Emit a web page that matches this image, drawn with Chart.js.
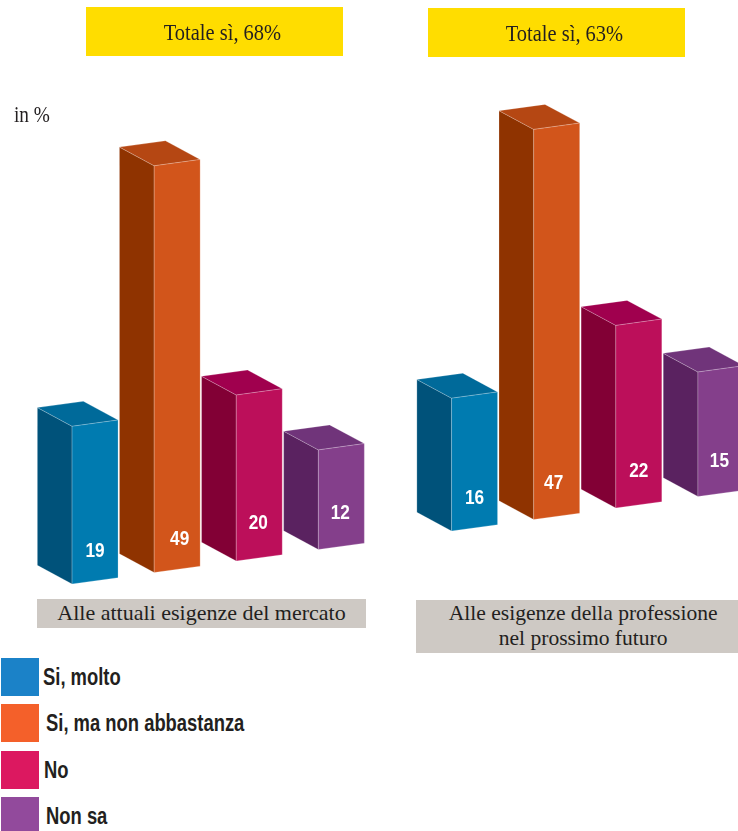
<!DOCTYPE html>
<html lang="it">
<head>
  <meta charset="UTF-8" />
  <title>Totale sì</title>
  <script src="https://cdn.jsdelivr.net/npm/chart.js"></script>
  <style>
    html, body { margin: 0; padding: 0; background: #fff; }
    #page { position: relative; width: 738px; height: 831px; overflow: hidden; }
    canvas { position: absolute; top: 0; }
    .serif { position: absolute; font-family: 'Liberation Serif', serif; color: #231f20; text-align: center; white-space: nowrap; }
    .total { background: #ffdd00; height: 49px; line-height: 51px; width: 257px; }
    .total span { display: inline-block; font-size: 23px; transform: translateX(7.5px) scaleX(0.89); }
    .sub { background: #cec9c4; font-size: 22px; line-height: 25px; }
    .sub span { display: inline-block; transform: translateX(6px) scaleX(0.98); }
    .swatch { position: absolute; left: 1px; width: 38px; }
    .lab { position: absolute; font-family: 'Liberation Sans', sans-serif; font-weight: 700; font-size: 23px; color: #231f20; white-space: nowrap; line-height: 26px; transform: scaleX(0.8); transform-origin: left center; }
  </style>
</head>
<body>
  <div id="page">
    <canvas id="chartLeft" width="400" height="600" style="left:0"></canvas>
    <canvas id="chartRight" width="382" height="600" style="left:380px"></canvas>

    <div class="serif total" style="left:86px;top:7px"><span>Totale sì, 68%</span></div>
    <div class="serif total" style="left:428px;top:8px"><span>Totale sì, 63%</span></div>
    <div class="serif" style="left:14px;top:102px;font-size:23px;transform:scaleX(0.84);transform-origin:left center">in %</div>
    <div class="serif sub" style="left:37px;top:599px;width:329px;height:29px;line-height:27px">Alle attuali esigenze del mercato</div>
    <div class="serif sub" style="left:416px;top:600px;width:322px;height:53px"><span>Alle esigenze della professione<br>nel prossimo futuro</span></div>
    <div id="legend"></div>
  </div>

  <script>
    const categories = ["Si, molto", "Si, ma non abbastanza", "No", "Non sa"];
    const attuali = [19, 49, 20, 12];
    const futuro = [16, 47, 22, 15];

    const frontColors = ["#007bb0", "#d2551b", "#bc0f5a", "#843f8b"];
    const sideColors = ["#00527a", "#8f3300", "#820035", "#5a2260"];
    const topColors = ["#006a9a", "#b54713", "#a0004e", "#70347a"];
    const legendColors = ["#1b82c8", "#f4602a", "#dc1860", "#924a9c"];

    // each bar sits a bit higher than the previous one
    const STEP_UP = 11.5;
    const DEPTH_X = 34.7;
    const DEPTH_Y = 18.7;
    const RISE = 6.3;

    function face(ctx, pts, fill) {
      ctx.beginPath();
      pts.forEach((p, i) => i ? ctx.lineTo(p[0], p[1]) : ctx.moveTo(p[0], p[1]));
      ctx.closePath();
      ctx.fillStyle = fill;
      ctx.fill();
      ctx.strokeStyle = "rgba(255,255,255,0.3)";
      ctx.lineWidth = 0.7;
      ctx.stroke();
    }

    const bars3d = {
      id: "bars3d",
      beforeDatasetDraw(chart) {
        const ctx = chart.ctx;
        const meta = chart.getDatasetMeta(0);
        const nudge = chart.options.plugins.bars3d;
        meta.data.forEach((bar, i) => {
          const shift = STEP_UP * i;
          const l = bar.x - bar.width / 2;
          const r = bar.x + bar.width / 2;
          const t = bar.y - shift;
          const b = bar.base - shift;
          face(ctx, [[l - DEPTH_X, t - DEPTH_Y], [l, t], [l, b], [l - DEPTH_X, b - DEPTH_Y]], sideColors[i]);
          face(ctx, [[l - DEPTH_X, t - DEPTH_Y], [r - DEPTH_X, t - DEPTH_Y - RISE], [r, t - RISE], [l, t]], topColors[i]);
          face(ctx, [[l, t], [r, t - RISE], [r, b - RISE], [l, b]], frontColors[i]);

          ctx.save();
          ctx.translate(bar.x + nudge.dx[i], b - nudge.up[i]);
          ctx.scale(0.82, 1);
          ctx.fillStyle = "#fff";
          ctx.font = "700 21px 'Liberation Sans', sans-serif";
          ctx.textAlign = "center";
          ctx.textBaseline = "middle";
          ctx.fillText(chart.data.datasets[0].data[i], 0, 0);
          ctx.restore();
        });
        return false;
      }
    };

    function makeChart(id, values, padding, nudge) {
      return new Chart(document.getElementById(id), {
        type: "bar",
        data: {
          labels: categories,
          datasets: [{
            data: values,
            backgroundColor: frontColors,
            categoryPercentage: 1,
            barPercentage: 0.56
          }]
        },
        options: {
          responsive: false,
          animation: false,
          layout: { padding },
          plugins: { legend: { display: false }, tooltip: { enabled: false }, bars3d: nudge },
          scales: {
            x: { display: false },
            y: { display: false, min: 0, max: 60 }
          }
        },
        plugins: [bars3d]
      });
    }

    // 60 units = 498px
    makeChart("chartLeft", attuali, { left: 54, right: 17.6, top: 86, bottom: 16 },
      { dx: [0, 2.5, -1, -1], up: [33, 33, 38, 36] });
    makeChart("chartRight", futuro, { left: 53.5, right: 0, top: 33, bottom: 69 },
      { dx: [0, -3, 0, -1.5], up: [33, 36, 37, 35] });

    const swatchTops = [658, 704, 751, 797];
    const swatchHeights = [38, 38, 38, 34];
    const labelLefts = [43, 46, 44, 46];
    const labelTops = [664, 710, 757, 803];
    const legend = document.getElementById("legend");
    categories.forEach((c, i) => {
      const s = document.createElement("div");
      s.className = "swatch";
      s.style.cssText = `top:${swatchTops[i]}px;height:${swatchHeights[i]}px;background:${legendColors[i]}`;
      legend.appendChild(s);
      const t = document.createElement("div");
      t.className = "lab";
      t.textContent = c;
      t.style.cssText = `left:${labelLefts[i]}px;top:${labelTops[i]}px`;
      legend.appendChild(t);
    });
  </script>
</body>
</html>
